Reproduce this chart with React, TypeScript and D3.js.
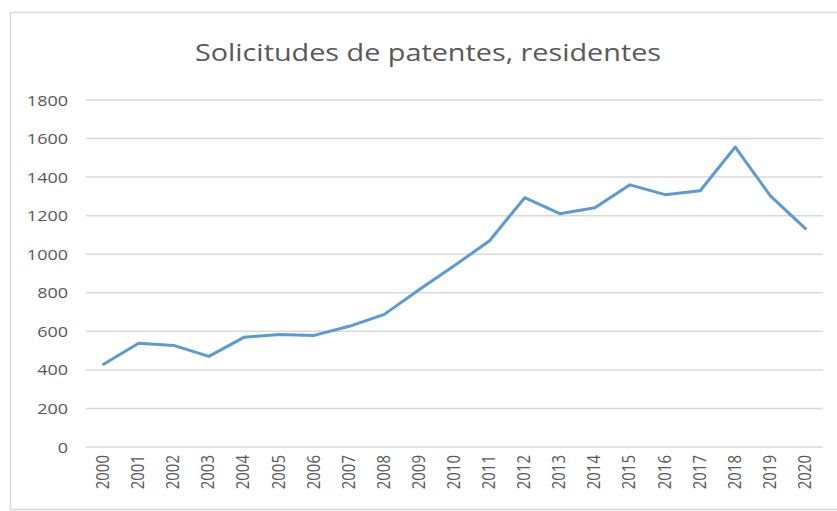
import React from "react";
import * as d3 from "d3";

const years = ["2000","2001","2002","2003","2004","2005","2006","2007","2008","2009","2010","2011","2012","2013","2014","2015","2016","2017","2018","2019","2020"];
const applications = [429, 538, 527, 470, 569, 584, 579, 626, 688, 817, 941, 1070, 1293, 1210, 1241, 1360, 1309, 1329, 1556, 1303, 1133];
const yTicks = [0, 200, 400, 600, 800, 1000, 1200, 1400, 1600, 1800];
const title = "Solicitudes de patentes, residentes";

const W = 837, H = 511;
const plot = { left: 86, right: 823, top: 100, bottom: 447 };
const SX = 1.2;
const font = "'Open Sans', sans-serif";
const textColor = "#595959";

export default function App() {
  const x = d3.scaleBand<string>().domain(years).range([plot.left, plot.right]);
  const y = d3.scaleLinear().domain([0, 1800]).range([plot.bottom, plot.top]);
  const line = d3.line<number>()
    .x((_, i) => (x(years[i]) as number) + x.bandwidth() / 2)
    .y((d) => y(d));

  return (
    <svg width={W} height={H} style={{ position: "absolute", left: 0, top: 0, background: "#fff" }}>
      <rect x={10.5} y={12.5} width={840} height={497} fill="#fff" stroke="#d9d9d9" strokeWidth={1.5} />
      <text x={0} y={0} transform={`translate(428,61) scale(${SX},1)`} textAnchor="middle" fontFamily={font} fontSize={24} fill={textColor}>{title}</text>
      {yTicks.map((t) => (
        <g key={t}>
          <line x1={plot.left} x2={plot.right} y1={y(t)} y2={y(t)} stroke="#d9d9d9" strokeWidth={1.5} />
          <text transform={`translate(68,${y(t) + 5.5}) scale(${SX},1)`} textAnchor="end" fontFamily={font} fontSize={15} fill={textColor}>{t}</text>
        </g>
      ))}
      <path d={line(applications) || ""} fill="none" stroke="#5b9bd5" strokeWidth={3} strokeLinejoin="round" strokeLinecap="round" />
      {years.map((yr) => {
        const cx = (x(yr) as number) + x.bandwidth() / 2;
        return (
          <text key={yr} transform={`translate(${cx + 5.5},455) scale(${SX},1) rotate(-90)`} textAnchor="end" fontFamily={font} fontSize={15} fill={textColor}>{yr}</text>
        );
      })}
    </svg>
  );
}
